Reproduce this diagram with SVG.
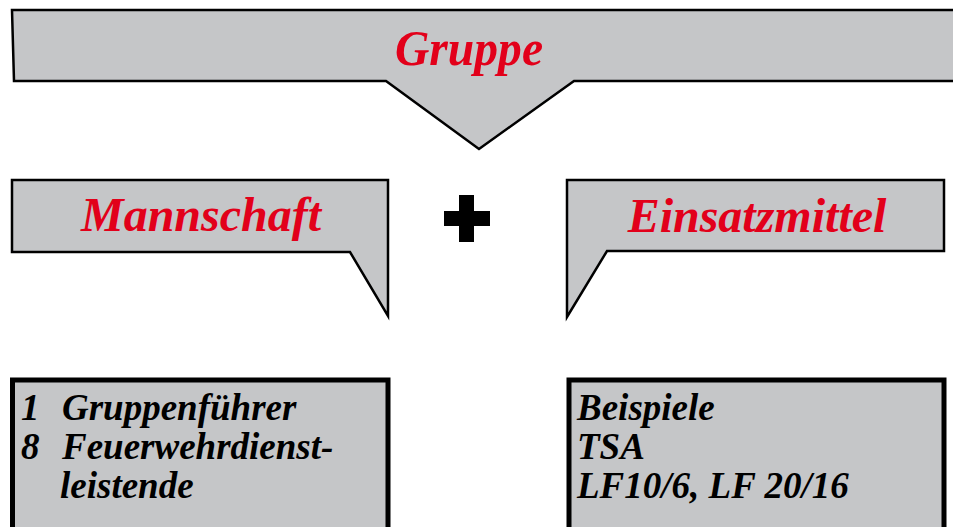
<svg xmlns="http://www.w3.org/2000/svg" width="953" height="527" viewBox="0 0 953 527">
<style>
.shape{fill:#c5c6c8;stroke:#000;stroke-width:2.5;stroke-linejoin:miter}
.box{fill:#c5c6c8;stroke:#000;stroke-width:5}
.title{font-family:"Liberation Serif","Times New Roman",serif;font-style:italic;font-weight:bold;fill:#e2001a;text-anchor:middle}
.body{font-family:"Liberation Serif","Times New Roman",serif;font-style:italic;font-weight:bold;font-size:37px;fill:#000}
</style>
<rect width="953" height="527" fill="#fff"/>
<g id="gruppe">
<polygon class="shape" points="12,10 960,10 960,81 574,81 479,149 386,81 14,81"/>
<text class="title" x="469" y="65" font-size="50" textLength="148" lengthAdjust="spacingAndGlyphs">Gruppe</text>
</g>
<g id="mannschaft">
<polygon class="shape" points="12,180 388,180 388,316 350,252 12,252"/>
<text class="title" x="201" y="231" font-size="48">Mannschaft</text>
</g>
<g id="plus">
<path d="M459,195 H474 V211 H490 V226 H474 V242 H459 V226 H444 V211 H459 Z" fill="#000"/>
</g>
<g id="einsatzmittel">
<polygon class="shape" points="567,180 944,180 944,251 607,251 567,317"/>
<text class="title" x="757" y="232" font-size="48">Einsatzmittel</text>
</g>
<g id="mannschaft-detail">
<rect class="box" x="12.5" y="380" width="375.5" height="200"/>
<text class="body" x="21" y="420">1</text>
<text class="body" x="62" y="420">Gruppenführer</text>
<text class="body" x="21" y="459">8</text>
<text class="body" x="62" y="459">Feuerwehrdienst-</text>
<text class="body" x="60" y="498">leistende</text>
</g>
<g id="einsatzmittel-detail">
<rect class="box" x="569" y="380" width="375" height="200"/>
<text class="body" x="577" y="420">Beispiele</text>
<text class="body" x="577" y="459">TSA</text>
<text class="body" x="577" y="498">LF10/6, LF 20/16</text>
</g>
<g id="connectors"></g>
</svg>
